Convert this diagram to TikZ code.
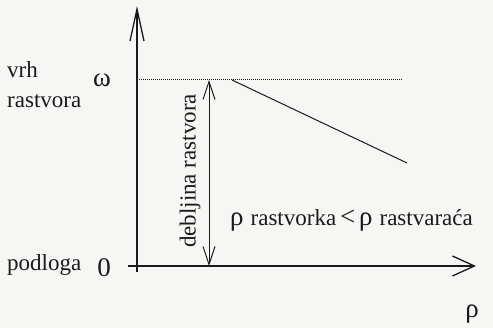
\documentclass[tikz,border=0pt]{standalone}
\usepackage{fontspec}
\setmainfont{Liberation Serif}
\usetikzlibrary{arrows.meta}
\definecolor{paper}{HTML}{F6F6F4}
\definecolor{ink}{HTML}{1A1A1A}
\newcommand\grk[1]{{\fontsize{27}{28}\selectfont #1}}
\tikzset{
  lbl/.style={font=\fontsize{23}{26}\selectfont, inner sep=0pt, text=ink},
  axis/.style={line width=1.3pt, ink},
  thin/.style={line width=1pt, ink},
  ybarb/.style={-{Straight Barb[length=32pt, width=14pt]}},
  xbarb/.style={-{Straight Barb[length=22pt, width=20pt]}},
  dbarb/.style={{Straight Barb[length=18pt, width=12pt]}-{Straight Barb[length=18pt, width=12pt]}}}

\begin{document}
\begin{tikzpicture}[x=1pt, y=-1pt]
\fill[paper] (0,0) rectangle (493,328);
\useasboundingbox (0,0) rectangle (493,328);
% axes
\coordinate (ybot) at (137,272); \coordinate (ytop) at (137,6);
\coordinate (xbeg) at (128,266); \coordinate (xend) at (476,266);
\draw[axis, ybarb] (ybot) -- (ytop);
\draw[axis, xbarb] (xbeg) -- (xend);
% labels on the axes
\node[lbl, anchor=west] (vrh) at (7,70) {vrh};
\node[lbl, anchor=west] (rastvora) at (7,101) {rastvora};
\node[lbl] (omega) at (102,80) {\grk{ω}};
\node[lbl, anchor=west] (podloga) at (7,265) {podloga};
\node[lbl] (nula) at (104,268) {\grk{0}};
\node[lbl] (rho) at (472,314) {\grk{ρ}};
% top of the film and its thickness
\coordinate (vrhL) at (137,80); \coordinate (vrhR) at (402,80);
\draw[thin, densely dotted] (vrhL) -- (vrhR);
\coordinate (gore) at (209,80); \coordinate (dolje) at (209,266);
\draw[thin, dbarb] (gore) -- (dolje);
\node[lbl, rotate=90] (debljina) at (190,171) {debljina rastvora};
% density profile
\coordinate (p0) at (232,80); \coordinate (p1) at (407,163);
\draw[thin] (p0) -- (p1);
\node[lbl, anchor=west] (uvjet) at (230,220) {\grk{ρ}\hspace{7pt}rastvorka\,\grk{<}\,\grk{ρ}\hspace{7pt}rastvaraća};
\end{tikzpicture}
\end{document}
